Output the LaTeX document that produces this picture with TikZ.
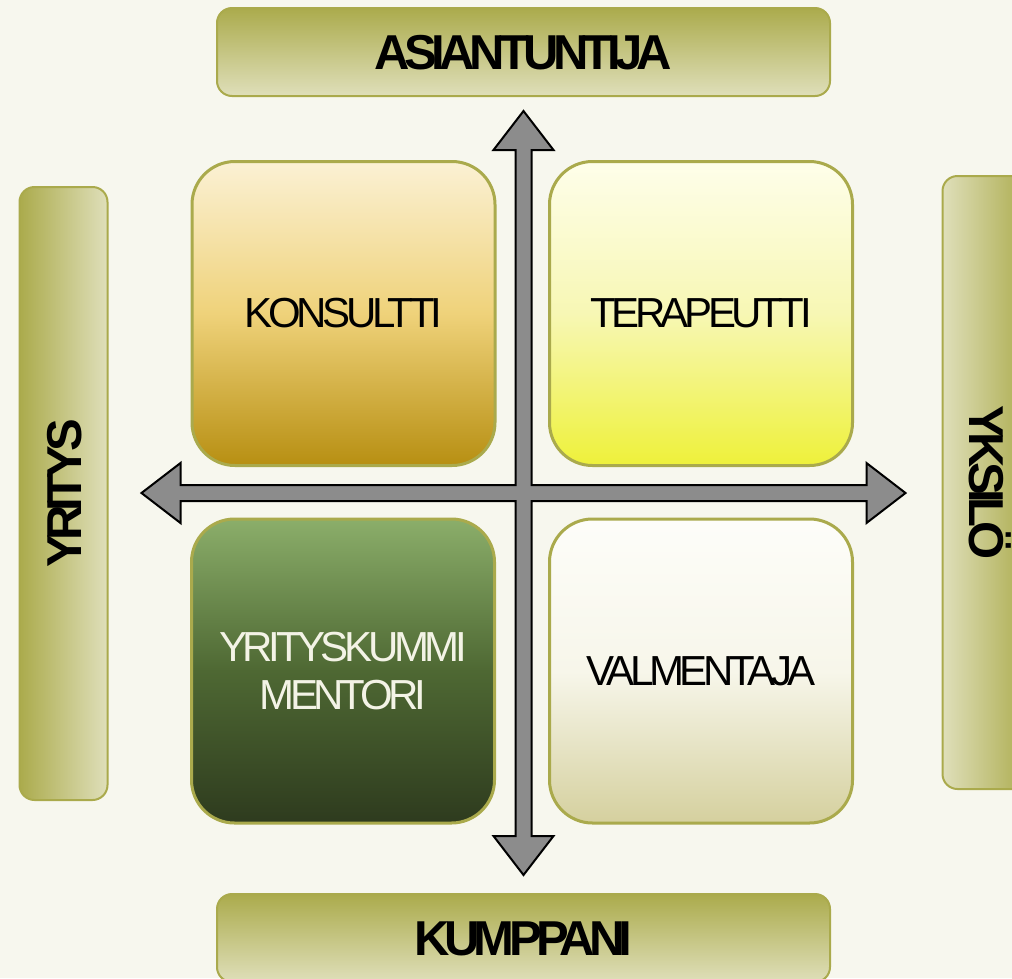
\documentclass[tikz,border=0pt]{standalone}
\usepackage{fontspec}
\setmainfont{Liberation Sans}
\newfontfamily\barfont[LetterSpace=-11.5]{Liberation Sans}
\newfontfamily\boxfont[LetterSpace=-10.5]{Liberation Sans}
\definecolor{paper}{RGB}{247,247,238}
\definecolor{rim}{RGB}{170,170,76}
\definecolor{bardark}{RGB}{171,171,76}
\definecolor{barlight}{RGB}{223,223,186}
\definecolor{goldtop}{RGB}{251,241,212}
\definecolor{goldmid}{RGB}{239,210,122}
\definecolor{goldbot}{RGB}{183,143,18}
\definecolor{lemontop}{RGB}{254,254,234}
\definecolor{lemonmid}{RGB}{247,247,180}
\definecolor{lemonbot}{RGB}{238,241,58}
\definecolor{mosstop}{RGB}{139,174,106}
\definecolor{mossmid}{RGB}{78,104,51}
\definecolor{mossbot}{RGB}{46,59,30}
\definecolor{creamtop}{RGB}{253,253,249}
\definecolor{creammid}{RGB}{247,246,234}
\definecolor{creambot}{RGB}{213,208,158}
\definecolor{shaft}{RGB}{140,140,140}
\definecolor{chalk}{RGB}{243,243,230}

\begin{document}
\begin{tikzpicture}[x=1pt, y=-1pt,
    quad/.style={rectangle, draw=rim, line width=3pt, rounded corners=43pt, minimum width=303pt, minimum height=304pt, inner sep=0pt, align=center, font=\boxfont\fontsize{42}{48}\selectfont},
    bar/.style={rectangle, draw=rim, line width=2pt, rounded corners=15pt, inner sep=0pt, minimum width=613pt, minimum height=88pt, text height=35pt, text depth=0pt, font=\barfont\bfseries\fontsize{49}{55}\selectfont},
    cross/.style={draw=black, line width=2pt, fill=shaft, line join=miter}
]
    \fill[paper] (0,0) rectangle (1012,978);
    \useasboundingbox (0,0) rectangle (1012,978);
    \clip (0,0) rectangle (1012,978);

    \node[bar, top color=bardark, bottom color=barlight] (expert) at (523.5,52) {ASIANTUNTIJA};
    \node[bar, top color=bardark, bottom color=barlight] (partner) at (523.5,938) {KUMPPANI};
    \node[bar, rotate=90, left color=bardark, right color=barlight] (company) at (63.5,493.5) {YRITYS};
    \node[bar, rotate=-90, left color=barlight, right color=bardark] (person) at (986.5,482.5) {YKSILÖ};

    \node[quad, top color=goldtop, bottom color=goldbot, middle color=goldmid] (consultant) at (343.5,313.5) {KONSULTTI};
    \node[quad, top color=lemontop, bottom color=lemonbot, middle color=lemonmid] (therapist) at (701,313.5) {TERAPEUTTI};
    \node[quad, top color=mosstop, bottom color=mossbot, middle color=mossmid, text=chalk] (mentor) at (343,671) {YRITYSKUMMI\\MENTORI};
    \node[quad, top color=creamtop, bottom color=creambot, middle color=creammid] (coach) at (701,671) {VALMENTAJA};

    \coordinate (mid) at (523.5,493);
    \draw[cross, shift={(mid)}] (382,0) -- (343,-30) -- (343,-8) -- (8,-8) -- (8,-343) -- (30,-343) -- (0,-382)
        -- (-30,-343) -- (-8,-343) -- (-8,-8) -- (-343,-8) -- (-343,-30) -- (-382,0) -- (-343,30) -- (-343,8)
        -- (-8,8) -- (-8,343) -- (-30,343) -- (0,382) -- (30,343) -- (8,343) -- (8,8) -- (343,8) -- (343,30) -- cycle;
\end{tikzpicture}
\end{document}
